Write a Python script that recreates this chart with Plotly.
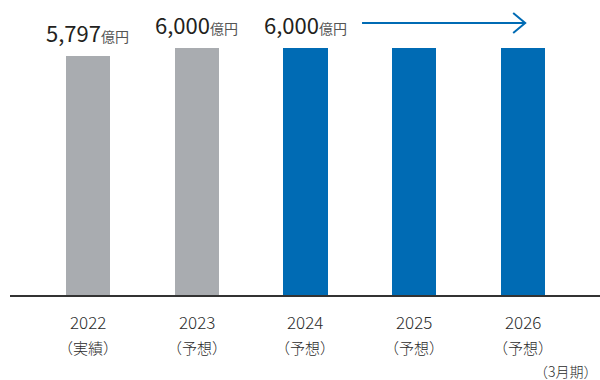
import plotly.graph_objects as go

# 連結売上高の推移（3月期）
years = ["2022", "2023", "2024", "2025", "2026"]
kinds = ["（実績）", "（予想）", "（予想）", "（予想）", "（予想）"]
values = [5797, 6000, 6000, 6000, 6000]
labeled = [True, True, True, False, False]
unit = "億円"
period_note = "（3月期）"

GRAY = "#a9acb0"
BLUE = "#006bb4"
TEXT = "#2b2b2b"
FONT = "Noto Sans CJK JP"

xs = list(range(len(years)))
colors = [GRAY, GRAY, BLUE, BLUE, BLUE]

fig = go.Figure(
    go.Bar(
        x=xs,
        y=values,
        width=0.405,
        marker=dict(color=colors, line=dict(width=0)),
        hoverinfo="skip",
    )
)

annotations = []
# 金額ラベル
for x, v, show in zip(xs, values, labeled):
    if not show:
        continue
    annotations.append(dict(
        x=x, y=v, xref="x", yref="y",
        text=f"<span style='font-size:22px'>{v:,}</span>"
             f"<span style='font-size:14px;color:#555555'>{unit}</span>",
        showarrow=False, xanchor="center", yanchor="middle", yshift=24,
        font=dict(family=FONT, color="#231f20", size=22, weight=400),
    ))

# 年度と区分
for x, yr, kd in zip(xs, years, kinds):
    annotations.append(dict(
        x=x, y=0, xref="x", yref="paper", text=yr, showarrow=False,
        xanchor="center", yanchor="middle", yshift=-26,
        font=dict(family=FONT, color=TEXT, size=17, weight=300),
    ))
    annotations.append(dict(
        x=x, y=0, xref="x", yref="paper", text=kd, showarrow=False,
        xanchor="center", yanchor="middle", yshift=-52,
        font=dict(family=FONT, color=TEXT, size=15, weight=300),
    ))

annotations.append(dict(
    x=1, y=0, xref="paper", yref="paper", text=period_note, showarrow=False,
    xanchor="right", yanchor="middle", yshift=-76,
    font=dict(family=FONT, color=TEXT, size=14, weight=300),
))

# 横ばい見通しを示す矢印
arrow_y = values[2]
shapes = [
    dict(type="line", xref="x", yref="y", ysizemode="pixel", yanchor=arrow_y,
         x0=2.52, x1=4.02, y0=25, y1=25,
         line=dict(color=BLUE, width=2)),
    dict(type="path", xref="x", yref="y",
         xsizemode="pixel", ysizemode="pixel", xanchor=4.02, yanchor=arrow_y,
         path="M-12,35 L0,25 L-12,15",
         line=dict(color=BLUE, width=2)),
]

fig.update_layout(
    width=600, height=380,
    margin=dict(l=10, r=0, t=0, b=85),
    paper_bgcolor="white", plot_bgcolor="white",
    showlegend=False,
    bargap=0,
    xaxis=dict(range=[-0.717, 4.708], showticklabels=False, ticks="",
               showgrid=False, zeroline=False,
               showline=True, linecolor="#333333", linewidth=2),
    yaxis=dict(range=[0, 7166], visible=False, showgrid=False, zeroline=False),
    annotations=annotations,
    shapes=shapes,
    font=dict(family=FONT),
)

fig.write_html("out.html")
